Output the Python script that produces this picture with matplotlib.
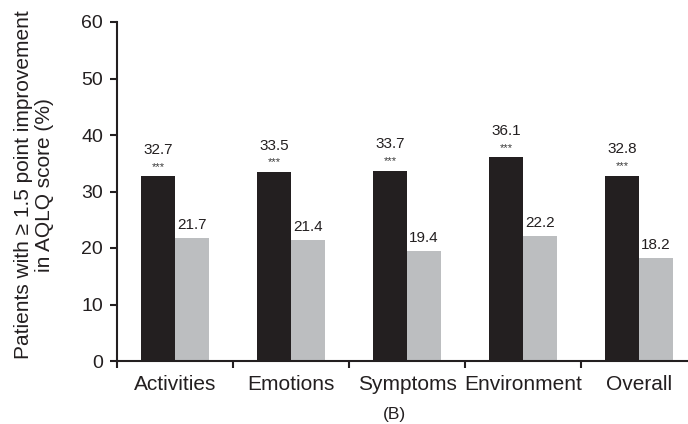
import matplotlib
matplotlib.use("Agg")
import matplotlib.pyplot as plt
import numpy as np

plt.rcParams['font.family'] = ['Liberation Sans', 'DejaVu Sans']

categories = ["Activities", "Emotions", "Symptoms", "Environment", "Overall"]
treatment = [32.7, 33.5, 33.7, 36.1, 32.8]
control = [21.7, 21.4, 19.4, 22.2, 18.2]
significance = ["***", "***", "***", "***", "***"]

dark = "#231f20"
light = "#bcbec0"
text_col = "#231f20"

fig = plt.figure(figsize=(6.88, 4.24), dpi=100)
W, H = 688, 424
ax = fig.add_axes([117 / W, 63 / H, 580 / W, 339 / H])

x = np.arange(len(categories))
bw = 0.29
ax.bar(x - bw / 2, treatment, bw, color=dark, linewidth=0)
ax.bar(x + bw / 2, control, bw, color=light, linewidth=0)

for xi, t, c, s in zip(x, treatment, control, significance):
    ax.annotate(f"{t:.1f}", (xi - bw / 2, t), xytext=(0, 16), textcoords="offset points",
                ha="center", va="baseline", fontsize=11, color=text_col)
    ax.annotate(s, (xi - bw / 2, t), xytext=(0, 4.5), textcoords="offset points",
                ha="center", va="baseline", fontsize=8, color="#3a3a3a")
    ax.annotate(f"{c:.1f}", (xi + bw / 2, c), xytext=(0, 6.5), textcoords="offset points",
                ha="center", va="baseline", fontsize=11, color=text_col)

ax.set_xlim(-0.5, 4.5)
ax.set_ylim(0, 60)
ax.set_yticks(np.arange(0, 61, 10))
ax.set_xticks(x)
ax.set_xticklabels(categories, fontsize=15, color=text_col)
ax.set_xticks(np.arange(-0.5, 4.6, 1.0), minor=True)
ax.tick_params(axis="x", which="major", length=0, pad=10)
ax.tick_params(axis="x", which="minor", length=5, width=1.5, color=text_col)
ax.tick_params(axis="y", length=5, width=1.5, color=text_col, labelsize=14,
               labelcolor=text_col, pad=5)

for side in ("top", "right"):
    ax.spines[side].set_visible(False)
for side in ("left", "bottom"):
    ax.spines[side].set_linewidth(1.5)
    ax.spines[side].set_color(text_col)

fig.text(34 / W, 1 - 185 / H, "Patients with \u2265 1.5 point improvement\nin AQLQ score (%)",
         rotation=90, ha="center", va="center", multialignment="center",
         fontsize=15, color=text_col, linespacing=1.15)

fig.text(394 / W, 1 - 414 / H, "(B)", ha="center", va="center", fontsize=12.5, color=text_col)

fig.savefig("out.png", dpi=100)
